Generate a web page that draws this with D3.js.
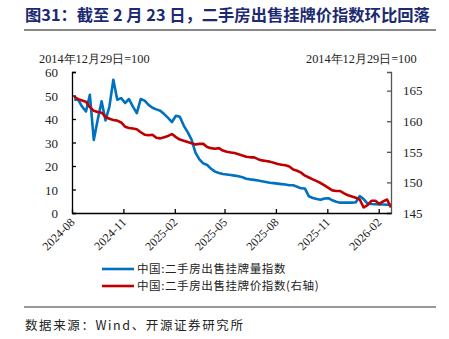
<!DOCTYPE html>
<html><head><meta charset="utf-8">
<script src="https://cdn.jsdelivr.net/npm/d3@7"></script>
<style>body{margin:0;background:#fff}svg{display:block}</style>
</head><body><svg id="c" width="449" height="339"></svg>
<script>
const dates = ["2024-08-05","2024-08-12","2024-08-19","2024-08-26","2024-09-02","2024-09-09","2024-09-16","2024-09-23","2024-09-30","2024-10-07","2024-10-14","2024-10-21","2024-10-28","2024-11-04","2024-11-11","2024-11-18","2024-11-25","2024-12-02","2024-12-09","2024-12-16","2024-12-23","2024-12-30","2025-01-06","2025-01-13","2025-01-20","2025-01-27","2025-02-03","2025-02-10","2025-02-17","2025-02-24","2025-03-03","2025-03-10","2025-03-17","2025-03-24","2025-03-31","2025-04-07","2025-04-14","2025-04-21","2025-04-28","2025-05-05","2025-05-12","2025-05-19","2025-05-26","2025-06-02","2025-06-09","2025-06-16","2025-06-23","2025-06-30","2025-07-07","2025-07-14","2025-07-21","2025-07-28","2025-08-04","2025-08-11","2025-08-18","2025-08-25","2025-09-01","2025-09-08","2025-09-15","2025-09-22","2025-09-29","2025-10-06","2025-10-13","2025-10-20","2025-10-27","2025-11-03","2025-11-10","2025-11-17","2025-11-24","2025-12-01","2025-12-08","2025-12-15","2025-12-22","2025-12-29","2026-01-05","2026-01-12","2026-01-19","2026-01-26","2026-02-02","2026-02-09","2026-02-16","2026-02-23"];
const listingVolume = [48.2,48.2,45.3,43.2,50.3,31.1,39.7,47.5,39.4,45.3,56.7,48.2,48.9,46.8,48.5,45.3,42.5,48.5,47.8,46.0,44.8,44.1,43.5,42.1,40.5,38.7,41.4,41.0,37.2,34.4,31.2,25.7,22.8,21.1,20.4,18.8,17.6,17.0,16.6,16.4,16.2,15.9,15.6,15.2,14.6,14.3,14.1,13.8,13.5,13.2,12.9,12.7,12.5,12.3,12.1,11.8,11.8,11.2,10.5,10.4,7.1,6.4,6.0,5.6,6.2,6.3,5.4,4.8,4.4,4.4,4.4,4.4,4.6,7.2,5.9,4.0,3.8,3.7,3.6,3.6,3.5,3.4];
const listingPrice = [164.0,163.6,163.4,163.2,162.3,161.7,161.5,161.4,160.7,160.4,160.2,160.1,159.8,159.1,158.9,158.8,158.7,158.2,157.8,157.7,157.8,157.3,157.2,157.4,157.6,157.9,157.4,157.0,156.8,156.6,156.4,156.2,156.3,156.3,155.8,155.6,155.5,155.6,155.2,155.0,154.9,154.8,154.6,154.4,154.2,154.1,154.1,153.8,153.6,153.5,153.4,153.2,153.0,152.9,152.8,152.6,152.1,151.9,151.6,151.1,150.8,150.5,150.2,149.9,149.5,149.1,148.7,148.6,148.6,148.2,147.9,147.7,147.5,147.2,145.9,146.3,147.0,147.0,146.5,146.9,147.2,145.9];
const leftTicks = [0,10,20,30,40,50,60];
const rightTicks = [145,150,155,160,165];
const xTickLabels = ["2024-08","2024-11","2025-02","2025-05","2025-08","2025-11","2026-02"];
const seriesNames = ["中国:二手房出售挂牌量指数","中国:二手房出售挂牌价指数(右轴)"];
const titleText = "图31：截至 2 月 23 日，二手房出售挂牌价指数环比回落";
const axisNote = "2014年12月29日=100";
const sourceText = "数据来源：Wind、开源证券研究所";

const svg = d3.select("#c");
const parse = d3.timeParse("%Y-%m-%d");
const pm = d3.timeParse("%Y-%m");
const L = 72, R = 391, T = 72, B = 213;
const serif = "'Liberation Serif','Times New Roman',serif";
const cjk = "'Noto Sans CJK SC',sans-serif";

const x = d3.scaleTime().domain([parse("2024-08-01"), parse("2026-02-23")]).range([L, R]);
const yL = d3.scaleLinear().domain([0, 60]).range([B, T]);
const yR = d3.scaleLinear().domain([145, 168.05]).range([B, T]);

// title
svg.append("text").attr("x", 25).attr("y", 21).attr("font-family", cjk)
  .attr("font-weight", "bold").attr("font-size", 16.3).attr("fill", "#1c2a72").text(titleText);
svg.append("line").attr("x1", 24).attr("x2", 436).attr("y1", 30).attr("y2", 30).attr("stroke", "#888").attr("stroke-width", 2);

// axis notes
svg.append("text").attr("x", 39).attr("y", 63).attr("font-family", serif).attr("font-size", 12.3).attr("fill", "#222").text(axisNote);
svg.append("text").attr("x", 306).attr("y", 63).attr("font-family", serif).attr("font-size", 12.3).attr("fill", "#222").text(axisNote);

// lines
const lineL = d3.line().x((d,i) => x(parse(dates[i]))).y(d => yL(d));
const lineR = d3.line().x((d,i) => x(parse(dates[i]))).y(d => yR(d));
svg.append("path").datum(listingVolume).attr("d", lineL).attr("fill", "none").attr("stroke", "#0070C0").attr("stroke-width", 2.6).attr("stroke-linejoin", "round");
svg.append("path").datum(listingPrice).attr("d", lineR).attr("fill", "none").attr("stroke", "#C00000").attr("stroke-width", 2.6).attr("stroke-linejoin", "round");

// left axis
const gL = svg.append("g").attr("transform", `translate(${L},0)`)
  .call(d3.axisLeft(yL).tickValues(leftTicks).tickSize(-4).tickPadding(14));
gL.selectAll("text").attr("font-family", serif).attr("font-size", 13).attr("fill", "#222").attr("dy", "0.36em");
gL.selectAll("line,path").attr("stroke", "#000").attr("stroke-width", 1.3);

// right axis
const gR = svg.append("g").attr("transform", `translate(${R},0)`)
  .call(d3.axisRight(yR).tickValues(rightTicks).tickSize(-4).tickPadding(12));
gR.selectAll("text").attr("font-family", serif).attr("font-size", 13).attr("fill", "#222");
gR.selectAll("line,path").attr("stroke", "#555").attr("stroke-width", 1.3);

// bottom axis
const gB = svg.append("g").attr("transform", `translate(0,${B})`)
  .call(d3.axisBottom(x).tickValues(xTickLabels.map(pm)).tickFormat(d3.timeFormat("%Y-%m")).tickSize(-4).tickSizeOuter(0));
gB.selectAll("line,path").attr("stroke", "#000").attr("stroke-width", 1.3);
gB.selectAll("text").attr("font-family", serif).attr("font-size", 12).attr("fill", "#222")
  .attr("text-anchor", "end").attr("dy", 0).attr("y", 0)
  .attr("transform", "translate(3,10) rotate(-45)");

// legend
const lg = [[269, "#0070C0"], [286, "#C00000"]];
lg.forEach((l, i) => {
  svg.append("line").attr("x1", 102).attr("x2", 134).attr("y1", l[0]).attr("y2", l[0]).attr("stroke", l[1]).attr("stroke-width", 2.6);
  svg.append("text").attr("x", 137).attr("y", l[0] + 4).attr("font-family", cjk).attr("font-size", 11.5)
    .attr("letter-spacing", 0.6).attr("fill", "#222").text(seriesNames[i]);
});

// source
svg.append("line").attr("x1", 24).attr("x2", 436).attr("y1", 307).attr("y2", 307).attr("stroke", "#777").attr("stroke-width", 1.3);
svg.append("text").attr("x", 25).attr("y", 330).attr("font-family", cjk).attr("font-size", 12.5)
  .attr("letter-spacing", 1.6).attr("fill", "#222").text(sourceText);
</script></body></html>
